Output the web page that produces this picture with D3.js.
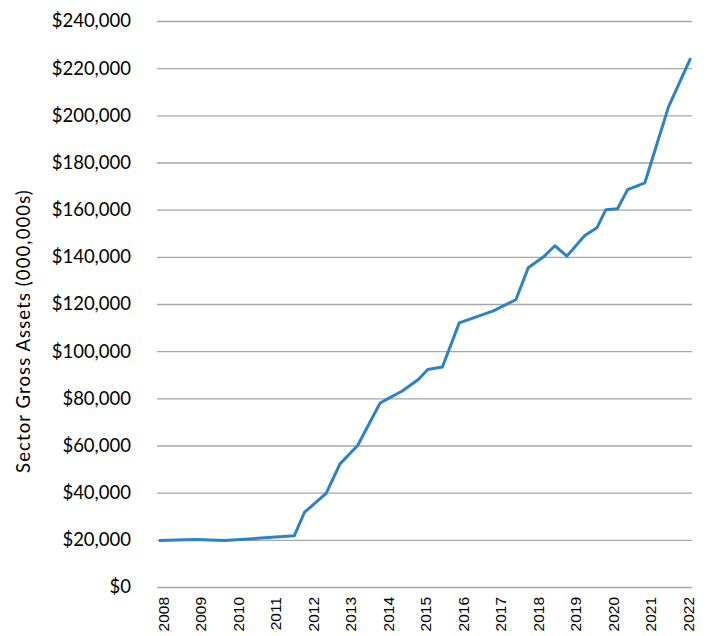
<!DOCTYPE html>
<html>
<head>
<meta charset="utf-8">
<script src="https://cdn.jsdelivr.net/npm/d3@7"></script>
<style>
html, body { margin: 0; padding: 0; background: #fff; }
svg { display: block; }
</style>
</head>
<body>
<svg id="chart" width="709" height="636"></svg>
<script>
// Data
const dates = [2007.89, 2008.85, 2009.65, 2011.50, 2011.77, 2012.35, 2012.72, 2013.19, 2013.79, 2014.05,
               2014.37, 2014.81, 2015.06, 2015.45, 2015.90, 2016.81, 2017.41, 2017.74, 2018.14, 2018.45,
               2018.77, 2019.24, 2019.57, 2019.81, 2020.12, 2020.39, 2020.85, 2021.48, 2022.07];
const assets = [19700, 20100, 19700, 21700, 31600, 39700, 52200, 60000, 78000, 80300,
                83000, 88000, 92200, 93300, 112000, 117100, 121800, 135400, 139900, 144700,
                140300, 148900, 152300, 160000, 160400, 168500, 171400, 203600, 224300];
const yearLabels = [2008, 2009, 2010, 2011, 2012, 2013, 2014, 2015, 2016, 2017, 2018, 2019, 2020, 2021, 2022];
const yTicks = [0, 20000, 40000, 60000, 80000, 100000, 120000, 140000, 160000, 180000, 200000, 220000, 240000];
const yTitle = "Sector Gross Assets (000,000s)";

const svg = d3.select("#chart");
const plotLeft = 157, plotRight = 692, plotTop = 21, plotBottom = 587;

const x = d3.scaleLinear().domain([2008, 2022]).range([163, 688]);
const y = d3.scaleLinear().domain([0, 240000]).range([plotBottom, plotTop]);

// gridlines
const yAxis = d3.axisLeft(y).tickValues(yTicks).tickSize(-(plotRight - plotLeft)).tickPadding(26)
  .tickFormat(d3.format("$,"));
const gy = svg.append("g").attr("transform", `translate(${plotLeft},0)`).call(yAxis);
gy.select(".domain").remove();
gy.selectAll(".tick line").attr("stroke", "#a6a6a6").attr("stroke-width", 1.4);
gy.selectAll(".tick text")
  .attr("font-family", "Lato, sans-serif").attr("font-size", "18.5px").attr("fill", "#000");

// x axis labels
const xAxis = d3.axisBottom(x).tickValues(yearLabels).tickSize(0).tickFormat(d3.format("d"));
const gx = svg.append("g").attr("transform", `translate(0,${plotBottom})`).call(xAxis);
gx.select(".domain").remove();
gx.selectAll(".tick text")
  .attr("font-family", "'Liberation Sans', Arial, sans-serif").attr("font-size", "15.5px").attr("fill", "#000")
  .attr("transform", "rotate(-90)")
  .attr("text-anchor", "end")
  .attr("x", -10).attr("y", 0).attr("dy", "0.35em");

// y title
svg.append("text")
  .attr("transform", `translate(24,${(plotTop + plotBottom) / 2 + 27}) rotate(-90)`)
  .attr("text-anchor", "middle").attr("dy", "0.35em")
  .attr("font-family", "Lato, sans-serif").attr("font-size", "18.5px").attr("fill", "#000")
  .attr("letter-spacing", "1.1px")
  .text(yTitle);

// line
const line = d3.line().x((d, i) => x(dates[i])).y(d => y(d));
svg.append("path").datum(assets)
  .attr("d", line)
  .attr("fill", "none").attr("stroke", "#2b83c6").attr("stroke-width", 3)
  .attr("stroke-linejoin", "round");
</script>
</body>
</html>
